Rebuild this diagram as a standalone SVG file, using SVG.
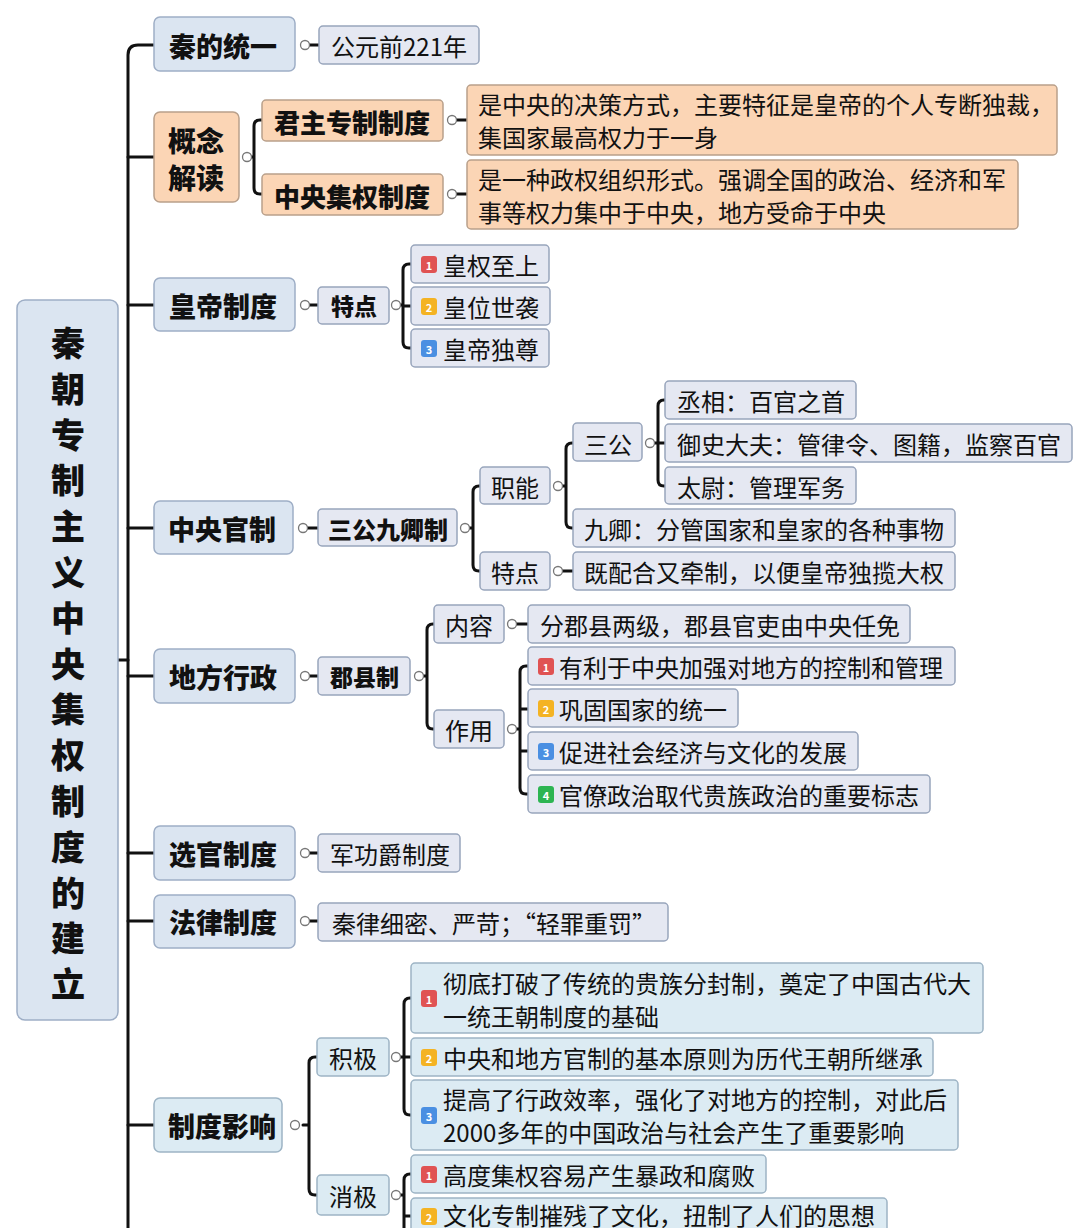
<svg xmlns="http://www.w3.org/2000/svg" width="1080" height="1228" viewBox="0 0 1080 1228">
<style>
text{font-family:"Noto Sans CJK SC","Noto Sans",sans-serif;fill:#111;dominant-baseline:central}
.b{font-weight:900}
.n{font-weight:400}
.l1{fill:#dbe5f1;stroke:#9eaec6;stroke-width:1.5}
.sb{fill:#e5e8f2;stroke:#98a5bc;stroke-width:1.5}
.or{fill:#fbd5b5;stroke:#b9a08b;stroke-width:1.5}
.cy{fill:#dcebf3;stroke:#9db4c5;stroke-width:1.5}
.ln{fill:none;stroke:#111;stroke-width:3;stroke-linecap:round}
.cc{fill:#fff;stroke:#777;stroke-width:1.3}
.bn{font-size:11px;font-weight:700;fill:#fff;text-anchor:middle}
</style>
<rect width="1080" height="1228" fill="#fff"/>
<g id="connectors">
<path class="ln" d="M154,45 H138 Q128,45 128,55 V1228"/>
<path class="ln" d="M118,660 H128"/>
<path class="ln" d="M128,157 H154 M128,305 H154 M128,528 H154 M128,676 H154 M128,853 H154 M128,921 H154 M128,1125 H154"/>
<path class="ln" d="M309,45 H319"/>
<path class="ln" d="M251,157 H254 M262,120 H260 Q254,120 254,126 V188 Q254,194 260,194 H262"/>
<path class="ln" d="M456,120 H467 M456,194 H467"/>
<path class="ln" d="M309,305 H318 M400,305 H403 M411,264 H409 Q403,264 403,270 V342 Q403,348 409,348 H411 M403,306 H411"/>
<path class="ln" d="M307,528 H318 M469,528 H473 M480,486 H479 Q473,486 473,492 V565 Q473,571 479,571 H480"/>
<path class="ln" d="M562,486 H566 M573,443 H572 Q566,443 566,449 V522 Q566,528 572,528 H573"/>
<path class="ln" d="M654,443 H658 M665,400 H664 Q658,400 658,406 V480 Q658,486 664,486 H665 M658,443 H665"/>
<path class="ln" d="M562,571 H573"/>
<path class="ln" d="M309,676 H318 M423,676 H427 M434,624 H433 Q427,624 427,630 V723 Q427,729 433,729 H434"/>
<path class="ln" d="M516,624 H528"/>
<path class="ln" d="M516,729 H520 M528,666 H526 Q520,666 520,672 V788 Q520,794 526,794 H528 M520,709 H528 M520,751 H528"/>
<path class="ln" d="M309,853 H318 M309,921 H318"/>
<path class="ln" d="M303,1125 H309 M317,1057 H315 Q309,1057 309,1063 V1189 Q309,1195 315,1195 H317"/>
<path class="ln" d="M400,1057 H404 M411,998 H410 Q404,998 404,1004 V1109 Q404,1115 410,1115 H411 M404,1057 H411"/>
<path class="ln" d="M400,1195 H404 M411,1174 H410 Q404,1174 404,1180 V1228 M404,1216 H411"/>
</g>
<g id="root">
<rect class="l1" x="17" y="300" width="101" height="720" rx="8"/>
<text class="b" font-size="34" text-anchor="middle" x="68" y="341">秦<tspan x="68" dy="45.8">朝</tspan><tspan x="68" dy="45.8">专</tspan><tspan x="68" dy="45.8">制</tspan><tspan x="68" dy="45.8">主</tspan><tspan x="68" dy="45.8">义</tspan><tspan x="68" dy="45.8">中</tspan><tspan x="68" dy="45.8">央</tspan><tspan x="68" dy="45.8">集</tspan><tspan x="68" dy="45.8">权</tspan><tspan x="68" dy="45.8">制</tspan><tspan x="68" dy="45.8">度</tspan><tspan x="68" dy="45.8">的</tspan><tspan x="68" dy="45.8">建</tspan><tspan x="68" dy="45.8">立</tspan></text>
</g>
<g id="n-tongyi"><rect class="l1" x="154" y="17" width="141" height="54" rx="6"/><text class="b" font-size="27" x="169" y="45">秦的统一</text><circle class="cc" cx="305" cy="45" r="4.5"/></g>
<g id="n-221"><rect class="sb" x="319" y="26" width="160" height="38" rx="4" fill="#e8edf5"/><text class="n" font-size="24" x="331" y="45">公元前221年</text></g>
<g id="n-gainian"><rect class="or" x="154" y="112" width="85" height="90" rx="6"/><text class="b" font-size="28" x="168" y="140">概念</text><text class="b" font-size="28" x="168" y="177">解读</text><circle class="cc" cx="247" cy="157" r="4.5"/></g>
<g id="n-junzhu"><rect class="or" x="262" y="100" width="181" height="41" rx="4"/><text class="b" font-size="26" x="274" y="121">君主专制制度</text><circle class="cc" cx="452" cy="120" r="4.5"/></g>
<g id="n-zhongyang"><rect class="or" x="262" y="174" width="181" height="41" rx="4"/><text class="b" font-size="26" x="274" y="195">中央集权制度</text><circle class="cc" cx="452" cy="194" r="4.5"/></g>
<g id="n-desc1"><rect class="or" x="467" y="85" width="590" height="70" rx="4"/><text class="n" font-size="24" x="478" y="103">是中央的决策方式，主要特征是皇帝的个人专断独裁，</text><text class="n" font-size="24" x="478" y="136">集国家最高权力于一身</text></g>
<g id="n-desc2"><rect class="or" x="467" y="160" width="551" height="69" rx="4"/><text class="n" font-size="24" x="478" y="178">是一种政权组织形式。强调全国的政治、经济和军</text><text class="n" font-size="24" x="478" y="211">事等权力集中于中央，地方受命于中央</text></g>
<g id="n-huangdi"><rect class="l1" x="154" y="278" width="141" height="53" rx="6"/><text class="b" font-size="27" x="169" y="305">皇帝制度</text><circle class="cc" cx="305" cy="305" r="4.5"/></g>
<g id="n-tedian1"><rect class="sb" x="318" y="287" width="71" height="37" rx="4"/><text class="b" font-size="23" x="331" y="305">特点</text><circle class="cc" cx="396" cy="305" r="4.5"/></g>
<g id="n-hq1"><rect class="sb" x="411" y="245" width="138" height="38" rx="4"/><rect x="421" y="256" width="16" height="17" rx="3" fill="#e05353"/><text class="bn" x="429" y="265">1</text><text class="n" font-size="24" x="443" y="264">皇权至上</text></g>
<g id="n-hq2"><rect class="sb" x="411" y="287" width="139" height="38" rx="4"/><rect x="421" y="298" width="16" height="17" rx="3" fill="#f4b323"/><text class="bn" x="429" y="307">2</text><text class="n" font-size="24" x="443" y="306">皇位世袭</text></g>
<g id="n-hq3"><rect class="sb" x="411" y="329" width="138" height="38" rx="4"/><rect x="421" y="340" width="16" height="17" rx="3" fill="#4a8fe2"/><text class="bn" x="429" y="349">3</text><text class="n" font-size="24" x="443" y="348">皇帝独尊</text></g>
<g id="n-guanzhi"><rect class="l1" x="154" y="501" width="139" height="53" rx="6"/><text class="b" font-size="27" x="168" y="528">中央官制</text><circle class="cc" cx="303" cy="528" r="4.5"/></g>
<g id="n-sangong9"><rect class="sb" x="318" y="509" width="139" height="37" rx="4"/><text class="b" font-size="24" x="328" y="528">三公九卿制</text><circle class="cc" cx="465" cy="528" r="4.5"/></g>
<g id="n-zhineng"><rect class="sb" x="480" y="467" width="70" height="37" rx="4"/><text class="n" font-size="24" x="491" y="486">职能</text><circle class="cc" cx="558" cy="486" r="4.5"/></g>
<g id="n-tedian2"><rect class="sb" x="480" y="552" width="70" height="38" rx="4"/><text class="n" font-size="24" x="491" y="571">特点</text><circle class="cc" cx="558" cy="571" r="4.5"/></g>
<g id="n-sangong"><rect class="sb" x="573" y="423" width="69" height="38" rx="4"/><text class="n" font-size="24" x="584" y="443">三公</text><circle class="cc" cx="650" cy="443" r="4.5"/></g>
<g id="n-chengxiang"><rect class="sb" x="665" y="381" width="191" height="38" rx="4"/><text class="n" font-size="24" x="677" y="400">丞相：百官之首</text></g>
<g id="n-yushi"><rect class="sb" x="665" y="424" width="407" height="38" rx="4"/><text class="n" font-size="24" x="677" y="443">御史大夫：管律令、图籍，监察百官</text></g>
<g id="n-taiwei"><rect class="sb" x="665" y="467" width="191" height="37" rx="4"/><text class="n" font-size="24" x="677" y="486">太尉：管理军务</text></g>
<g id="n-jiuqing"><rect class="sb" x="573" y="509" width="382" height="38" rx="4"/><text class="n" font-size="24" x="584" y="528">九卿：分管国家和皇家的各种事物</text></g>
<g id="n-jipeihe"><rect class="sb" x="573" y="552" width="382" height="38" rx="4"/><text class="n" font-size="24" x="584" y="571">既配合又牵制，以便皇帝独揽大权</text></g>
<g id="n-difang"><rect class="l1" x="154" y="649" width="141" height="54" rx="6"/><text class="b" font-size="27" x="169" y="676">地方行政</text><circle class="cc" cx="305" cy="676" r="4.5"/></g>
<g id="n-junxian"><rect class="sb" x="318" y="657" width="92" height="38" rx="4"/><text class="b" font-size="23" x="330" y="676">郡县制</text><circle class="cc" cx="419" cy="676" r="4.5"/></g>
<g id="n-neirong"><rect class="sb" x="434" y="605" width="70" height="38" rx="4"/><text class="n" font-size="24" x="445" y="624">内容</text><circle class="cc" cx="512" cy="624" r="4.5"/></g>
<g id="n-zuoyong"><rect class="sb" x="434" y="710" width="70" height="38" rx="4"/><text class="n" font-size="24" x="445" y="729">作用</text><circle class="cc" cx="512" cy="729" r="4.5"/></g>
<g id="n-fenjun"><rect class="sb" x="528" y="605" width="382" height="38" rx="4"/><text class="n" font-size="24" x="540" y="624">分郡县两级，郡县官吏由中央任免</text></g>
<g id="n-zy1"><rect class="sb" x="528" y="647" width="427" height="38" rx="4"/><rect x="538" y="658" width="16" height="17" rx="3" fill="#e05353"/><text class="bn" x="546" y="667">1</text><text class="n" font-size="24" x="559" y="666">有利于中央加强对地方的控制和管理</text></g>
<g id="n-zy2"><rect class="sb" x="528" y="689" width="210" height="38" rx="4"/><rect x="538" y="700" width="16" height="17" rx="3" fill="#f4b323"/><text class="bn" x="546" y="709">2</text><text class="n" font-size="24" x="559" y="708">巩固国家的统一</text></g>
<g id="n-zy3"><rect class="sb" x="528" y="732" width="330" height="38" rx="4"/><rect x="538" y="743" width="16" height="17" rx="3" fill="#4a8fe2"/><text class="bn" x="546" y="752">3</text><text class="n" font-size="24" x="559" y="751">促进社会经济与文化的发展</text></g>
<g id="n-zy4"><rect class="sb" x="528" y="775" width="402" height="38" rx="4"/><rect x="538" y="786" width="16" height="17" rx="3" fill="#2db552"/><text class="bn" x="546" y="795">4</text><text class="n" font-size="24" x="559" y="794">官僚政治取代贵族政治的重要标志</text></g>
<g id="n-xuanguan"><rect class="l1" x="154" y="826" width="141" height="54" rx="6"/><text class="b" font-size="27" x="169" y="853">选官制度</text><circle class="cc" cx="305" cy="853" r="4.5"/></g>
<g id="n-jungong"><rect class="sb" x="318" y="834" width="142" height="38" rx="4"/><text class="n" font-size="24" x="330" y="853">军功爵制度</text></g>
<g id="n-falv"><rect class="l1" x="154" y="895" width="141" height="53" rx="6"/><text class="b" font-size="27" x="169" y="921">法律制度</text><circle class="cc" cx="305" cy="921" r="4.5"/></g>
<g id="n-qinlv"><rect class="sb" x="318" y="903" width="350" height="38" rx="4"/><text class="n" font-size="24" x="332" y="922">秦律细密、严苛；“轻罪重罚”</text></g>
<g id="n-yingxiang"><rect class="cy" x="154" y="1098" width="128" height="54" rx="6"/><text class="b" font-size="27" x="168" y="1125">制度影响</text><circle class="cc" cx="295" cy="1125" r="4.5"/></g>
<g id="n-jiji"><rect class="cy" x="317" y="1038" width="72" height="38" rx="4"/><text class="n" font-size="24" x="329" y="1057">积极</text><circle class="cc" cx="396" cy="1057" r="4.5"/></g>
<g id="n-xiaoji"><rect class="cy" x="317" y="1175" width="72" height="40" rx="4"/><text class="n" font-size="24" x="329" y="1195">消极</text><circle class="cc" cx="396" cy="1195" r="4.5"/></g>
<g id="n-jj1"><rect class="cy" x="411" y="963" width="572" height="70" rx="4"/><rect x="421" y="990" width="16" height="17" rx="3" fill="#e05353"/><text class="bn" x="429" y="999">1</text><text class="n" font-size="24" x="443" y="982">彻底打破了传统的贵族分封制，奠定了中国古代大</text><text class="n" font-size="24" x="443" y="1015">一统王朝制度的基础</text></g>
<g id="n-jj2"><rect class="cy" x="411" y="1038" width="522" height="38" rx="4"/><rect x="421" y="1049" width="16" height="17" rx="3" fill="#f4b323"/><text class="bn" x="429" y="1058">2</text><text class="n" font-size="24" x="443" y="1057">中央和地方官制的基本原则为历代王朝所继承</text></g>
<g id="n-jj3"><rect class="cy" x="411" y="1080" width="547" height="70" rx="4"/><rect x="421" y="1107" width="16" height="17" rx="3" fill="#4a8fe2"/><text class="bn" x="429" y="1116">3</text><text class="n" font-size="24" x="443" y="1098">提高了行政效率，强化了对地方的控制，对此后</text><text class="n" font-size="24" x="443" y="1131">2000多年的中国政治与社会产生了重要影响</text></g>
<g id="n-xj1"><rect class="cy" x="411" y="1155" width="355" height="38" rx="4"/><rect x="421" y="1166" width="16" height="17" rx="3" fill="#e05353"/><text class="bn" x="429" y="1175">1</text><text class="n" font-size="24" x="443" y="1174">高度集权容易产生暴政和腐败</text></g>
<g id="n-xj2"><rect class="cy" x="411" y="1198" width="476" height="40" rx="4"/><rect x="421" y="1208" width="16" height="17" rx="3" fill="#f4b323"/><text class="bn" x="429" y="1217">2</text><text class="n" font-size="24" x="443" y="1214">文化专制摧残了文化，扭制了人们的思想</text></g>
</svg>
